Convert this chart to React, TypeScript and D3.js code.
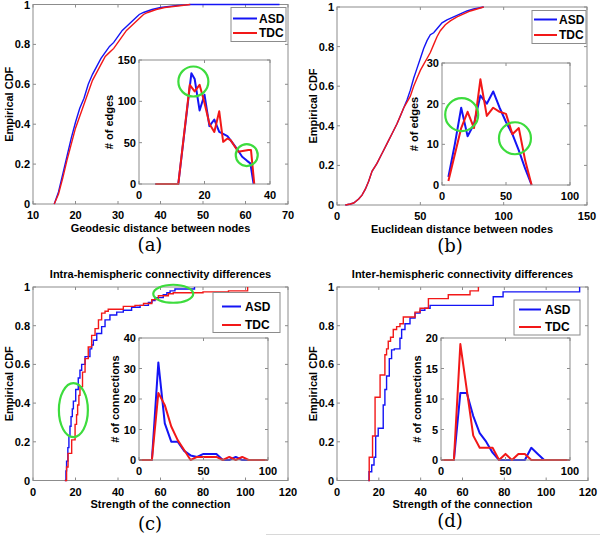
import React from 'react';
import * as d3 from 'd3';

type Pt = [number, number];

// ---------- Panel (a): geodesic distance ----------
const aAsdCdf: Pt[] = [[15,0],[16,0.06],[17,0.15],[18,0.24],[19,0.33],[20,0.41],[21,0.48],[22,0.53],[23,0.6],[24,0.65],[25,0.69],[26,0.73],[27,0.76],[28,0.79],[29,0.81],[30,0.84],[31,0.87],[32,0.89],[33,0.91],[34,0.93],[35,0.95],[36,0.96],[38,0.975],[40,0.985],[42,0.99],[44,0.995],[46,0.998],[47,1],[68,1]];
const aTdcCdf: Pt[] = [[15,0],[16,0.05],[17,0.13],[18,0.22],[19,0.3],[20,0.38],[21,0.44],[22,0.5],[23,0.56],[24,0.62],[25,0.66],[26,0.7],[27,0.74],[28,0.76],[29,0.78],[30,0.81],[31,0.84],[32,0.87],[33,0.89],[34,0.91],[35,0.93],[36,0.95],[37,0.96],[39,0.975],[41,0.985],[43,0.99],[45,0.995],[47,1]];
const aAsdHist: Pt[] = [[5,0],[12,0],[16,134],[17,127],[18.5,89],[20,108],[21.5,70],[23,78],[24.5,63],[26,60],[27,58],[28.5,50],[30,42],[31.5,33],[33,28],[34,25],[35,0]];
const aTdcHist: Pt[] = [[5,0],[12,0],[15.5,120],[17,112],[18.5,120],[20,98],[21.5,73],[23,63],[24.5,88],[25.7,51],[27,55],[28,53],[30.3,39],[33.4,41],[34.2,41],[35.2,0]];

// ---------- Panel (b): euclidean distance ----------
const bAsdCdf: Pt[] = [[5,0],[8,0.005],[10,0.01],[13,0.03],[15,0.05],[17,0.08],[19,0.12],[21,0.17],[24,0.21],[27,0.26],[30,0.31],[33,0.36],[36,0.41],[38,0.45],[40,0.49],[42,0.53],[44,0.58],[46,0.64],[48,0.69],[50,0.74],[52,0.79],[54,0.83],[56,0.86],[58,0.87],[60,0.89],[63,0.92],[66,0.935],[70,0.95],[74,0.965],[78,0.98],[82,0.99],[88,1]];
const bTdcCdf: Pt[] = [[5,0],[8,0.005],[10,0.01],[13,0.03],[15,0.05],[17,0.08],[19,0.12],[21,0.17],[24,0.21],[27,0.26],[30,0.31],[33,0.36],[36,0.41],[38,0.45],[40,0.49],[42,0.52],[44,0.55],[46,0.6],[48,0.64],[50,0.68],[52,0.71],[54,0.74],[56,0.77],[58,0.81],[60,0.85],[62,0.88],[65,0.91],[68,0.93],[72,0.95],[76,0.965],[80,0.98],[84,0.99],[88,1]];
const bAsdHist: Pt[] = [[5,2],[10,10],[15,19],[20,12],[25,15],[30,22],[35,20],[40,23],[45,19],[50,15.5],[55,12.5],[60,8.5],[65,4],[70,0]];
const bTdcHist: Pt[] = [[5,1],[10,7.5],[15,14],[20,18],[25,14],[30,26],[35,17],[40,19],[45,18],[50,17.5],[55,12.5],[60,14],[65,6],[70,0]];

// ---------- Panel (c): intra-hemispheric ----------
const cAsdCdf: Pt[] = [[15,0],[15.5,0.05],[15.8,0.1],[16.4,0.17],[16.9,0.23],[17.4,0.28],[17.9,0.33],[18.5,0.37],[19,0.41],[20.1,0.47],[21.3,0.53],[22.1,0.57],[22.9,0.6],[24.5,0.64],[26.8,0.68],[27.6,0.7],[28.4,0.725],[30,0.76],[32.3,0.795],[33.9,0.83],[36.2,0.855],[39.4,0.87],[42.5,0.88],[46.4,0.895],[50.4,0.905],[54.3,0.92],[56,0.93],[57.4,0.945],[61.3,0.96],[63,0.97],[64.5,0.98],[66.8,0.99],[76,1],[76,1]];
const cTdcCdf: Pt[] = [[15,0],[15.8,0.07],[16.5,0.14],[18.2,0.21],[19.8,0.29],[20.5,0.34],[21,0.39],[21.6,0.44],[22.1,0.485],[23.3,0.56],[24.5,0.63],[26,0.69],[27.6,0.75],[29.2,0.785],[30.8,0.83],[32.3,0.865],[33.9,0.875],[35.4,0.885],[42.5,0.9],[48,0.905],[52,0.915],[55.9,0.935],[59,0.955],[63.7,0.965],[66,0.97],[80,0.975],[92,0.98],[101,1],[101,1]];
const cAsdHist: Pt[] = [[0,0],[5,0],[10,0],[15,32],[20,12],[25,6],[30,6],[35,3],[40,1.5],[45,1],[50,2],[55,2],[60,2],[65,0],[70,0],[75,1],[80,0],[85,0],[90,0],[95,0],[100,0]];
const cTdcHist: Pt[] = [[0,0],[5,0],[10,0],[15,22],[20,18],[25,11],[30,6.5],[35,3.3],[40,0],[45,1],[50,1],[55,1],[60,1],[65,0],[70,1],[75,0],[80,1],[85,0],[90,0],[95,0],[100,0]];

// ---------- Panel (d): inter-hemispheric ----------
const dAsdCdf: Pt[] = [[15,0],[15.3,0.045],[16.6,0.08],[17.7,0.12],[18.5,0.23],[19.7,0.27],[22.1,0.39],[22.9,0.47],[23.7,0.54],[25,0.63],[26.1,0.675],[27.4,0.68],[30.1,0.735],[30.9,0.78],[32.5,0.81],[34.9,0.84],[37.3,0.865],[39.7,0.88],[42,0.89],[44.5,0.905],[74.7,0.95],[79.4,0.975],[116,1],[116,1]];
const dTdcCdf: Pt[] = [[15,0],[15.4,0.12],[17,0.23],[18.2,0.43],[20.6,0.545],[22.9,0.65],[23.7,0.68],[24.5,0.72],[25.6,0.74],[26.9,0.78],[28.5,0.795],[30.1,0.81],[31.7,0.845],[37.3,0.87],[39.7,0.89],[43.7,0.94],[53.2,0.96],[63.6,0.98],[67.6,1],[67.6,1]];
const dAsdHist: Pt[] = [[0,0],[5,0],[10,0],[15,11],[20,11],[25,7.2],[30,4.4],[35,3],[40,1.2],[45,0],[50,0],[55,0],[60,0],[65,0],[70,2],[75,1],[80,0],[85,0],[90,0],[95,0],[100,0]];
const dTdcHist: Pt[] = [[0,0],[5,0],[10,0],[15,19],[20,11.5],[25,4],[30,2],[35,2],[40,2],[45,0],[50,1],[55,0],[60,1],[65,1],[70,0],[75,0],[80,0],[85,0],[90,0],[95,0],[100,0]];

// tick labels
const cdfTicks = [0, 0.2, 0.4, 0.6, 0.8, 1];
const aXTicks = [10, 20, 30, 40, 50, 60, 70];
const bXTicks = [0, 50, 100, 150];
const cdXTicks = [0, 20, 40, 60, 80, 100, 120];
const aInsetXTicks = [0, 20, 40];
const aInsetYTicks = [0, 50, 100, 150];
const bInsetXTicks = [0, 50, 100];
const bInsetYTicks = [0, 10, 20, 30];
const cInsetYTicks = [0, 10, 20, 30, 40];
const dInsetYTicks = [0, 5, 10, 15, 20];

const seriesNames = ['ASD', 'TDC'];

const FONT = "'Liberation Sans', Arial, Helvetica, sans-serif";
const SERIF = "'DejaVu Serif', 'Liberation Serif', serif";
const BLUE = '#1414f5';
const RED = '#f21818';
const GREEN = '#3ddc3d';
const AXIS = '#8c8c8c';

type Box = { x0: number; x1: number; y0: number; y1: number };

function Frame({ box, xs, ys, xTicks, yTicks, tick = 3, fs = 11, fill = 'none', yLabelDx = 3 }: any) {
  return (
    <g>
      <rect x={box.x0} y={box.y0} width={box.x1 - box.x0} height={box.y1 - box.y0} fill={fill} stroke={AXIS} strokeWidth={1} />
      {xTicks.map((t: number) => (
        <g key={'x' + t}>
          <line x1={xs(t)} x2={xs(t)} y1={box.y1} y2={box.y1 - tick} stroke={AXIS} />
          <line x1={xs(t)} x2={xs(t)} y1={box.y0} y2={box.y0 + tick} stroke={AXIS} />
          <text x={xs(t)} y={box.y1 + 11} textAnchor="middle" dominantBaseline="central" fontSize={fs} fontWeight="bold" fontFamily={FONT}>{String(t)}</text>
        </g>
      ))}
      {yTicks.map((t: number) => (
        <g key={'y' + t}>
          <line x1={box.x0} x2={box.x0 + tick} y1={ys(t)} y2={ys(t)} stroke={AXIS} />
          <line x1={box.x1} x2={box.x1 - tick} y1={ys(t)} y2={ys(t)} stroke={AXIS} />
          <text x={box.x0 - yLabelDx} y={ys(t)} textAnchor="end" dominantBaseline="central" fontSize={fs} fontWeight="bold" fontFamily={FONT}>{String(t)}</text>
        </g>
      ))}
    </g>
  );
}

function Panel({ cfg }: any) {
  const m: Box = cfg.main;
  const xs = d3.scaleLinear().domain(cfg.xDomain).range([m.x0, m.x1]);
  const ys = d3.scaleLinear().domain([0, 1]).range([m.y1, m.y0]);
  const curve = cfg.step ? d3.curveStepAfter : d3.curveLinear;
  const line = d3.line<Pt>().x(d => xs(d[0])).y(d => ys(d[1])).curve(curve);

  const ib: Box = cfg.inset.box;
  const ixs = d3.scaleLinear().domain(cfg.inset.xDomain).range([ib.x0, ib.x1]);
  const iys = d3.scaleLinear().domain(cfg.inset.yDomain).range([ib.y1, ib.y0]);
  const iline = d3.line<Pt>().x(d => ixs(d[0])).y(d => iys(d[1]));

  const lg = cfg.legend;
  const colors = [BLUE, RED];

  return (
    <g>
      {cfg.title && (
        <text x={(m.x0 + m.x1) / 2} y={m.y0 - 13} textAnchor="middle" dominantBaseline="central" fontSize={11} fontWeight="bold" fontFamily={FONT}>{cfg.title}</text>
      )}
      <Frame box={m} xs={xs} ys={ys} xTicks={cfg.xTicks} yTicks={cdfTicks} />
      <path d={line(cfg.asd) || ''} fill="none" stroke={BLUE} strokeWidth={1.4} />
      <path d={line(cfg.tdc) || ''} fill="none" stroke={RED} strokeWidth={1.4} />
      <text transform={`translate(${m.x0 - 24},${(m.y0 + m.y1) / 2}) rotate(-90)`} textAnchor="middle" dominantBaseline="central" fontSize={11} fontWeight="bold" fontFamily={FONT}>Empirical CDF</text>
      <text x={(m.x0 + m.x1) / 2} y={m.y1 + 23.5} textAnchor="middle" dominantBaseline="central" fontSize={11} fontWeight="bold" fontFamily={FONT}>{cfg.xLabel}</text>

      {/* inset */}
      <rect x={ib.x0} y={ib.y0} width={ib.x1 - ib.x0} height={ib.y1 - ib.y0} fill="#fff" />
      <path d={iline(cfg.inset.asd) || ''} fill="none" stroke={BLUE} strokeWidth={2} strokeLinejoin="round" />
      <path d={iline(cfg.inset.tdc) || ''} fill="none" stroke={RED} strokeWidth={2} strokeLinejoin="round" />
      <Frame box={ib} xs={ixs} ys={iys} xTicks={cfg.inset.xTicks} yTicks={cfg.inset.yTicks} />
      <text transform={`translate(${ib.x0 - cfg.inset.labelDx},${(ib.y0 + ib.y1) / 2}) rotate(-90)`} textAnchor="middle" dominantBaseline="central" fontSize={11} fontWeight="bold" fontFamily={FONT}>{cfg.inset.yLabel}</text>

      {/* legend */}
      <rect x={lg.x0} y={lg.y0} width={lg.x1 - lg.x0} height={lg.y1 - lg.y0} fill="#fff" stroke={AXIS} strokeWidth={1} />
      {seriesNames.map((s, i) => (
        <g key={s}>
          <line x1={lg.lx0} x2={lg.lx1} y1={lg.rows[i]} y2={lg.rows[i]} stroke={colors[i]} strokeWidth={2} />
          <text x={lg.tx} y={lg.rows[i]} dominantBaseline="central" fontSize={lg.fs} fontWeight="bold" fontFamily={FONT}>{s}</text>
        </g>
      ))}

      {/* annotations */}
      {cfg.circles.map((c: any, i: number) => {
        const sx = c.inset ? ixs : xs;
        const sy = c.inset ? iys : ys;
        return <ellipse key={i} cx={sx(c.x)} cy={sy(c.y)} rx={c.rx} ry={c.ry} fill="none" stroke={GREEN} strokeWidth={2.2} />;
      })}

      <text x={cfg.caption.x} y={cfg.caption.y} textAnchor="middle" dominantBaseline="central" fontSize={18} fontFamily={SERIF}>{cfg.caption.text}</text>
    </g>
  );
}

const panels = [
  {
    main: { x0: 33, x1: 288, y0: 4.5, y1: 204 },
    xDomain: [10, 70], xTicks: aXTicks, xLabel: 'Geodesic distance between nodes',
    asd: aAsdCdf, tdc: aTdcCdf, step: false,
    inset: { box: { x0: 139, x1: 270, y0: 60, y1: 184 }, xDomain: [0, 40], yDomain: [0, 150], xTicks: aInsetXTicks, yTicks: aInsetYTicks, yLabel: '# of edges', labelDx: 30, asd: aAsdHist, tdc: aTdcHist },
    legend: { x0: 231, x1: 286, y0: 7.5, y1: 41.5, rows: [18.5, 33], lx0: 233, lx1: 257, tx: 259, fs: 12 },
    circles: [
      { inset: true, x: 16.6, y: 124, rx: 15, ry: 15 },
      { inset: true, x: 32.9, y: 35, rx: 11, ry: 11 },
    ],
    caption: { text: '(a)', x: 150, y: 244 },
  },
  {
    main: { x0: 337, x1: 587, y0: 7, y1: 205 },
    xDomain: [0, 150], xTicks: bXTicks, xLabel: 'Euclidean distance between nodes',
    asd: bAsdCdf, tdc: bTdcCdf, step: false,
    inset: { box: { x0: 442, x1: 570, y0: 63, y1: 185 }, xDomain: [0, 100], yDomain: [0, 30], xTicks: bInsetXTicks, yTicks: bInsetYTicks, yLabel: '# of edges', labelDx: 28, asd: bAsdHist, tdc: bTdcHist },
    legend: { x0: 532, x1: 586, y0: 10.5, y1: 43.5, rows: [19.5, 35], lx0: 534, lx1: 557, tx: 559, fs: 12 },
    circles: [
      { inset: true, x: 15.4, y: 17.3, rx: 16.5, ry: 16.5 },
      { inset: true, x: 57, y: 11.5, rx: 16, ry: 16 },
    ],
    caption: { text: '(b)', x: 450, y: 245 },
  },
  {
    main: { x0: 33, x1: 288, y0: 287, y1: 480.5 },
    xDomain: [0, 120], xTicks: cdXTicks, xLabel: 'Strength of the connection',
    title: 'Intra-hemispheric connectivity differences',
    asd: cAsdCdf, tdc: cTdcCdf, step: true,
    inset: { box: { x0: 139, x1: 268, y0: 338, y1: 460 }, xDomain: [0, 100], yDomain: [0, 40], xTicks: bInsetXTicks, yTicks: cInsetYTicks, yLabel: '# of connections', labelDx: 24, asd: cAsdHist, tdc: cTdcHist },
    legend: { x0: 213, x1: 280, y0: 292.5, y1: 332.5, rows: [306.5, 325], lx0: 222, lx1: 241, tx: 245, fs: 12 },
    circles: [
      { inset: false, x: 19, y: 0.364, rx: 14.5, ry: 27 },
      { inset: false, x: 66, y: 0.965, rx: 20, ry: 9 },
    ],
    caption: { text: '(c)', x: 150, y: 523 },
  },
  {
    main: { x0: 337, x1: 588, y0: 287, y1: 480.5 },
    xDomain: [0, 120], xTicks: cdXTicks, xLabel: 'Strength of the connection',
    title: 'Inter-hemispheric connectivity differences',
    asd: dAsdCdf, tdc: dTdcCdf, step: true,
    inset: { box: { x0: 441, x1: 570, y0: 338, y1: 460 }, xDomain: [0, 100], yDomain: [0, 20], xTicks: bInsetXTicks, yTicks: dInsetYTicks, yLabel: '# of connections', labelDx: 24, asd: dAsdHist, tdc: dTdcHist },
    legend: { x0: 514, x1: 580, y0: 300, y1: 335, rows: [309.5, 327], lx0: 519, lx1: 541, tx: 545, fs: 12 },
    circles: [],
    caption: { text: '(d)', x: 450, y: 520 },
  },
];

export default function App() {
  return (
    <svg width={600} height={538} viewBox="0 0 600 538" style={{ position: 'absolute', left: 0, top: 0, background: '#fff' }}>
      <rect x={0} y={0} width={600} height={538} fill="#fff" />
      {panels.map((p, i) => <Panel key={i} cfg={p} />)}
      <line x1={266} x2={600} y1={534.5} y2={534.5} stroke="#d8d8d8" strokeWidth={1} />
    </svg>
  );
}
